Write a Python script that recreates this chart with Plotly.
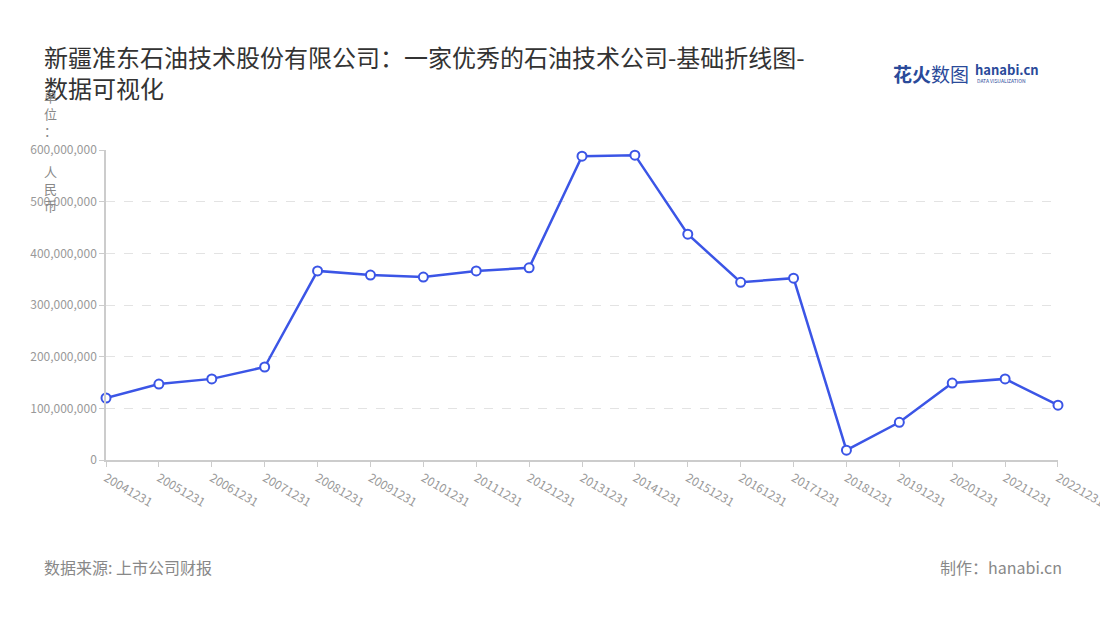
import plotly.graph_objects as go

categories = ["20041231", "20051231", "20061231", "20071231", "20081231", "20091231",
              "20101231", "20111231", "20121231", "20131231", "20141231", "20151231",
              "20161231", "20171231", "20181231", "20191231", "20201231", "20211231",
              "20221231"]
values = [120e6, 147e6, 157e6, 180e6, 366e6, 358e6, 354e6, 366e6, 372e6, 588e6,
          590e6, 437e6, 344e6, 352e6, 19e6, 73e6, 149e6, 157e6, 106e6]
y_ticks = [0, 100e6, 200e6, 300e6, 400e6, 500e6, 600e6]

title_text = "新疆准东石油技术股份有限公司：一家优秀的石油技术公司-基础折线图-<br>数据可视化"
unit_label = "单位：人民币"
source_text = "数据来源: 上市公司财报"
maker_text = "制作：hanabi.cn"

FONT = "Noto Sans CJK SC"
BLUE = "#3b55e6"
L, R, T, B = 106, 42, 150, 160
PW, PH = 1100 - L - R, 620 - T - B


def px(x):
    return (x - L) / PW


def py(y):
    return (620 - B - y) / PH


fig = go.Figure()
fig.add_trace(go.Scatter(
    x=list(range(len(categories))), y=values, mode="lines+markers",
    line=dict(color=BLUE, width=2.5),
    marker=dict(size=9, color="white", line=dict(color=BLUE, width=2)),
    cliponaxis=False, showlegend=False,
))

fig.update_layout(
    width=1100, height=620,
    paper_bgcolor="white", plot_bgcolor="white",
    margin=dict(l=L, r=R, t=T, b=B, autoexpand=False),
    font=dict(family=FONT, color="#999999", size=12),
    xaxis=dict(
        tickmode="array", tickvals=list(range(len(categories))), ticktext=categories,
        range=[-0.0001, len(categories) - 1 + 0.0001], tickangle=30, automargin=False,
        ticklabeloverflow="allow",
        showgrid=False, showline=True, linecolor="#cccccc", linewidth=1.5,
        ticks="outside", ticklen=5, tickcolor="#cccccc",
        tickfont=dict(size=12, color="#999999"), zeroline=False,
    ),
    yaxis=dict(
        tickmode="array", tickvals=y_ticks,
        ticktext=[f"{int(v):,}" for v in y_ticks], automargin=False,
        range=[0, 600e6], showgrid=True, gridcolor="#e3e3e3", griddash="dash",
        showline=True, linecolor="#cccccc", linewidth=1.5,
        ticks="outside", ticklen=5, tickcolor="#cccccc",
        tickfont=dict(size=12, color="#999999"), zeroline=False,
    ),
)

fig.add_annotation(text=title_text, xref="paper", yref="paper",
                   x=px(42), y=py(37), xanchor="left", yanchor="top",
                   align="left", showarrow=False,
                   font=dict(family=FONT, size=24, color="#333333"))
fig.add_annotation(text="<br>".join(list(unit_label[:3])), xref="paper", yref="paper",
                   x=px(50), y=py(113), xanchor="center", yanchor="middle",
                   align="center", showarrow=False,
                   font=dict(family=FONT, size=13, color="#888888"))
fig.add_annotation(text="<br>".join(list(unit_label[3:])), xref="paper", yref="paper",
                   x=px(50), y=py(188), xanchor="center", yanchor="middle",
                   align="center", showarrow=False,
                   font=dict(family=FONT, size=13, color="#888888"))
fig.add_annotation(text=source_text, xref="paper", yref="paper",
                   x=px(42), y=py(567), xanchor="left", yanchor="middle",
                   showarrow=False, font=dict(family=FONT, size=16, color="#888888"))
fig.add_annotation(text=maker_text, xref="paper", yref="paper",
                   x=px(1064), y=py(567), xanchor="right", yanchor="middle",
                   showarrow=False, font=dict(family=FONT, size=16, color="#888888"))
# logo
fig.add_annotation(text="<b>花火</b>数图", xref="paper", yref="paper",
                   x=px(891), y=py(73), xanchor="left", yanchor="middle",
                   showarrow=False, font=dict(family=FONT, size=19, color="#2a4a9a"))
fig.add_annotation(text="<b>hanabi.cn</b>", xref="paper", yref="paper",
                   x=px(973), y=py(69), xanchor="left", yanchor="middle",
                   showarrow=False, font=dict(family=FONT, size=13, color="#2a4a9a"))
fig.add_annotation(text="DATA VISUALIZATION", xref="paper", yref="paper",
                   x=px(975), y=py(81), xanchor="left", yanchor="middle",
                   showarrow=False, font=dict(family=FONT, size=5, color="#2a4a9a"))

fig.write_html("out.html", config={"displayModeBar": False},
               post_script="document.body.style.margin='0';")
